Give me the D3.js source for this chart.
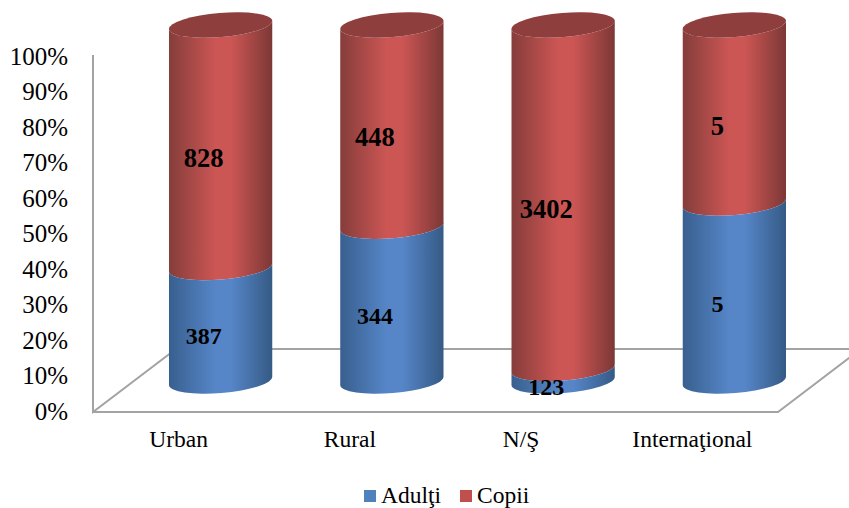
<!DOCTYPE html>
<html>
<head>
<meta charset="utf-8">
<script src="https://cdn.jsdelivr.net/npm/d3@7"></script>
<style>
body { margin: 0; background: #fff; }
svg { display: block; }
text { font-family: "Liberation Serif", serif; fill: #000; }
</style>
</head>
<body>
<div id="chart"></div>
<script>
var categories = ["Urban", "Rural", "N/Ş", "Internaţional"];
var adulti = [387, 344, 123, 5];
var copii = [828, 448, 3402, 5];
var yTicks = [0, 0.1, 0.2, 0.3, 0.4, 0.5, 0.6, 0.7, 0.8, 0.9, 1];
var seriesNames = ["Adulţi", "Copii"];

var width = 849, height = 508;
var depthX = 42;      // cylinders stand in the middle of the floor
var tilt = 4.7 * Math.PI / 180;
var rx = 51.8, ry = 12;

var svg = d3.select("#chart").append("svg")
    .attr("width", width)
    .attr("height", height);

var defs = svg.append("defs");

function addGradient(id, edgeL, mid, edgeR) {
    var g = defs.append("linearGradient").attr("id", id);
    g.append("stop").attr("offset", "0%").attr("stop-color", edgeL);
    g.append("stop").attr("offset", "45%").attr("stop-color", mid);
    g.append("stop").attr("offset", "60%").attr("stop-color", mid);
    g.append("stop").attr("offset", "100%").attr("stop-color", edgeR);
}
addGradient("blueGrad", "#385f8e", "#5686c8", "#355a85");
addGradient("redGrad", "#853d3b", "#cc5654", "#7c3836");

var x = d3.scaleBand().domain(categories).range([93, 778]);
var yAxisScale = d3.scaleLinear().domain([0, 1]).range([411, 56]);
var y = d3.scaleLinear().domain([0, 1]).range([381, 25]);

// floor and wall
var frameColor = "#a3a3a3";
var frame = svg.append("g")
    .attr("fill", "none")
    .attr("stroke", frameColor)
    .attr("stroke-width", 2);
frame.append("path").attr("d", "M93,55V412L176,349H849");
frame.append("path").attr("d", "M93,412H778L861,349");

// y axis
var yAxis = svg.append("g")
    .attr("transform", "translate(93,0)")
    .call(d3.axisLeft(yAxisScale).tickValues(yTicks).tickFormat(d3.format(".0%")).tickSize(0).tickPadding(25));
yAxis.select(".domain").remove();
yAxis.selectAll("text")
    .attr("font-family", "Liberation Serif")
    .attr("font-size", 25);

// x axis
var xAxis = svg.append("g")
    .attr("transform", "translate(0,412)")
    .call(d3.axisBottom(x).tickSize(0).tickPadding(18));
xAxis.select(".domain").remove();
xAxis.selectAll("text")
    .attr("font-family", "Liberation Serif")
    .attr("font-size", 23.5);

function cx(i) {
    return x(categories[i]) + x.bandwidth() / 2 + depthX;
}

// one slice of a cylinder between two stacked fractions
function slice(i, v0, v1) {
    var c = cx(i), dx = rx * Math.cos(tilt), dy = rx * Math.sin(tilt);
    var rot = -tilt * 180 / Math.PI;
    var arc = "A" + rx + "," + ry + " " + rot + " 0 ";
    return "M" + (c - dx) + "," + (y(v0) + dy)
        + arc + "0 " + (c + dx) + "," + (y(v0) - dy)
        + "L" + (c + dx) + "," + (y(v1) - dy)
        + arc + "1 " + (c - dx) + "," + (y(v1) + dy) + "Z";
}

var bars = svg.selectAll(".bar")
    .data(categories)
    .enter().append("g")
    .attr("class", "bar");

bars.append("path")
    .attr("fill", "url(#redGrad)")
    .attr("d", function(d, i) { return slice(i, adulti[i] / (adulti[i] + copii[i]), 1); });

bars.append("path")
    .attr("fill", "url(#blueGrad)")
    .attr("d", function(d, i) { return slice(i, 0, adulti[i] / (adulti[i] + copii[i])); });

bars.append("ellipse")
    .attr("fill", "#8e3f3d")
    .attr("rx", rx)
    .attr("ry", ry)
    .attr("transform", function(d, i) {
        return "translate(" + cx(i) + "," + y(1) + ") rotate(" + (-tilt * 180 / Math.PI) + ")";
    });

// value labels sit left of the cylinder axis, slightly below the slice middle
function addLabels(values, mid, size) {
    bars.append("text")
        .attr("text-anchor", "middle")
        .attr("font-weight", "bold")
        .attr("font-size", size)
        .attr("dy", "0.33em")
        .attr("x", function(d, i) { return cx(i) - 17; })
        .attr("y", function(d, i) { return y(mid(i)) + 12; })
        .text(function(d, i) { return values[i]; });
}
addLabels(adulti, function(i) { return adulti[i] / (adulti[i] + copii[i]) / 2; }, 24);
addLabels(copii, function(i) { var a = adulti[i] / (adulti[i] + copii[i]); return a + (1 - a) / 2; }, 26.5);

// legend
var legendX = [364, 460];
var legendColor = ["#4f81bd", "#c0504d"];
var legend = svg.selectAll(".legend")
    .data(seriesNames)
    .enter().append("g")
    .attr("class", "legend")
    .attr("transform", function(d, i) { return "translate(" + legendX[i] + ",490)"; });
legend.append("rect")
    .attr("width", 12)
    .attr("height", 12)
    .attr("fill", function(d, i) { return legendColor[i]; });
legend.append("text")
    .attr("x", 17)
    .attr("y", 12.8)
    .attr("font-size", 23.5)
    .text(function(d) { return d; });
</script>
</body>
</html>
